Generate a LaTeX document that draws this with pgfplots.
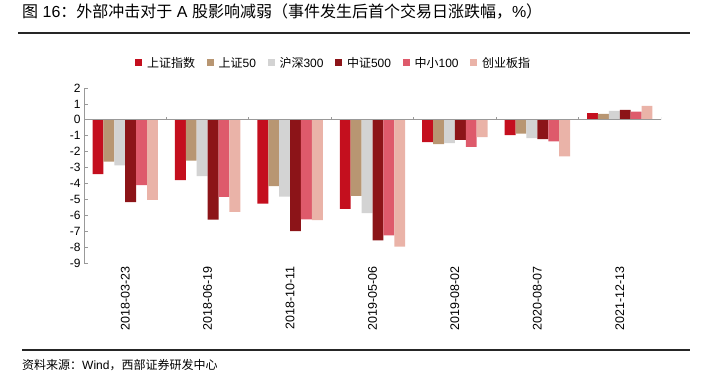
\documentclass[border=0pt]{standalone}
\usepackage{pgfplots}
\pgfplotsset{compat=1.18}
\usepackage{fontspec}
\setmainfont{Liberation Sans}
\newfontfamily\cjk{Noto Sans CJK SC}
\definecolor{c1}{HTML}{C40F1E}
\definecolor{c2}{HTML}{B89672}
\definecolor{c3}{HTML}{D3D3D3}
\definecolor{c4}{HTML}{8C1418}
\definecolor{c5}{HTML}{DE5A6B}
\definecolor{c6}{HTML}{EAB3A8}
\newcommand\fs{\fontsize{12}{14}\selectfont}
\begin{document}
\begin{tikzpicture}[x=1pt,y=1pt]
\path[use as bounding box] (0,0) rectangle (701,-376);
\node[anchor=base west, inner sep=0, font=\fontsize{16}{19}\selectfont] at (22,-17)
  {{\cjk 图} 16{\cjk ：外部冲击对于} A {\cjk 股影响减弱（事件发生后首个交易日涨跌幅，}\%{\cjk ）}};
\draw[line width=1.2pt, black!85] (18,-33) -- (690,-33);
\begin{axis}[
  at={(84pt,-263pt)}, anchor=south west,
  scale only axis, width=577pt, height=175pt,
  ybar=0pt, bar width=10.9pt,
  xmin=-0.5, xmax=6.5, ymin=-9, ymax=2,
  axis y line*=left, axis x line*=bottom,
  x axis line style={draw=none},
  y axis line style={gray!80, line width=0.8pt},
  xtick={0,...,6},
  xticklabels={2018-03-23,2018-06-19,2018-10-11,2019-05-06,2019-08-02,2020-08-07,2021-12-13},
  xtick style={draw=none},
  xticklabel style={rotate=90, anchor=east, font=\fontsize{12.5}{14}\selectfont},
  ytick={-9,...,2},
  ytick style={gray!80, line width=0.8pt},
  tick align=inside, major tick length=4pt,
  yticklabel style={font=\fs},
  /pgf/number format/assume math mode=true,
  legend columns=6,
  legend cell align=left,
  legend image code/.code={\fill[#1] (0pt,-3.5pt) rectangle (7pt,3.5pt);},
  legend style={at={(0.0884,1.143)}, anchor=west, draw=none, fill=none, font=\fs,
    inner sep=0pt,
    /tikz/every odd column/.append style={column sep=3pt},
    /tikz/every even column/.append style={column sep=9.5pt}},
]
\addplot[fill=c1, draw=none] coordinates {(0,-3.42) (1,-3.79) (2,-5.26) (3,-5.60) (4,-1.40) (5,-0.96) (6,0.42)};
\addplot[fill=c2, draw=none] coordinates {(0,-2.62) (1,-2.56) (2,-4.17) (3,-4.78) (4,-1.53) (5,-0.86) (6,0.38)};
\addplot[fill=c3, draw=none] coordinates {(0,-2.87) (1,-3.54) (2,-4.82) (3,-5.87) (4,-1.47) (5,-1.15) (6,0.57)};
\addplot[fill=c4, draw=none] coordinates {(0,-5.18) (1,-6.27) (2,-7.00) (3,-7.57) (4,-1.26) (5,-1.22) (6,0.63)};
\addplot[fill=c5, draw=none] coordinates {(0,-4.11) (1,-4.84) (2,-6.25) (3,-7.27) (4,-1.70) (5,-1.36) (6,0.52)};
\addplot[fill=c6, draw=none] coordinates {(0,-5.03) (1,-5.79) (2,-6.31) (3,-7.97) (4,-1.09) (5,-2.29) (6,0.88)};
\legend{{\cjk 上证指数},{\cjk 上证}50,{\cjk 沪深}300,{\cjk 中证}500,{\cjk 中小}100,{\cjk 创业板指}}
\draw[gray!80, line width=0.8pt] (axis cs:-0.5,0) -- (axis cs:6.5,0);
\pgfplotsinvokeforeach{0.5,1.5,2.5,3.5,4.5,5.5,6.5}{
  \draw[gray!80, line width=0.8pt] (axis cs:#1,0) -- ++(0pt,3pt);
}
\end{axis}
\draw[line width=1.2pt, black!85] (22,-350) -- (690,-350);
\node[anchor=base west, inner sep=0, font=\fs] at (22,-369)
  {{\cjk 资料来源：}Wind{\cjk ，西部证券研发中心}};
\end{tikzpicture}
\end{document}
